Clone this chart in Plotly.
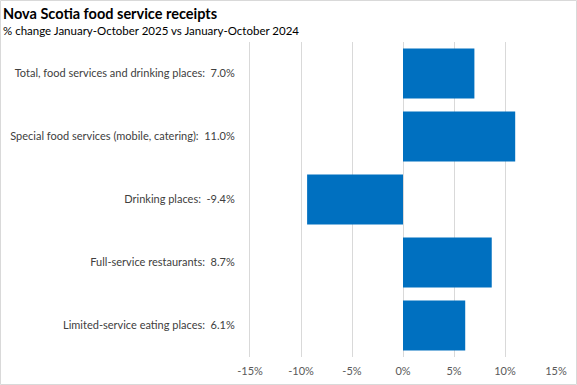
import plotly.graph_objects as go

categories = [
    "Total, food services and drinking places:  7.0%",
    "Special food services (mobile, catering):  11.0%",
    "Drinking places:  -9.4%",
    "Full-service restaurants:  8.7%",
    "Limited-service eating places:  6.1%",
]
values = [7.0, 11.0, -9.4, 8.7, 6.1]
x_ticks = [-15, -10, -5, 0, 5, 10, 15]
x_tick_labels = ["-15%", "-10%", "-5%", "0%", "5%", "10%", "15%"]

W, H = 577, 385
ml, mr, mt, mb = 250, 21, 42, 28
pw = W - ml - mr
ph = H - mt - mb
FONT = "Lato, Liberation Sans, sans-serif"

fig = go.Figure(go.Bar(
    x=values, y=categories, orientation="h",
    marker=dict(color="#0070C0", line=dict(width=0)),
    width=0.79,
))

fig.update_layout(
    width=W, height=H,
    margin=dict(l=ml, r=mr, t=mt, b=mb, autoexpand=False),
    plot_bgcolor="white", paper_bgcolor="white",
    font=dict(family=FONT, color="#404040", size=11),
    showlegend=False,
    bargap=0.2,
)
fig.update_xaxes(
    range=[-15, 15], tickvals=x_ticks, ticktext=x_tick_labels,
    showgrid=True, gridcolor="#D9D9D9", gridwidth=1,
    zeroline=False, showline=False, ticks="",
    tickfont=dict(size=11, color="#595959"), ticklabelstandoff=6,
)
fig.update_yaxes(
    autorange="reversed", showgrid=False, zeroline=False,
    showline=True, linecolor="#D9D9D9", linewidth=1, ticks="",
    tickfont=dict(size=11, color="#404040"), ticklabelstandoff=12,
)
fig.add_annotation(
    text="<b>Nova Scotia food service receipts</b>",
    xref="paper", yref="paper", x=(1 - ml) / pw, y=1 + (mt - 3) / ph,
    xanchor="left", yanchor="top", showarrow=False,
    font=dict(size=14.5, color="#000000", family=FONT),
)
fig.add_annotation(
    text="% change January-October 2025 vs January-October 2024",
    xref="paper", yref="paper", x=(1 - ml) / pw, y=1 + (mt - 22) / ph,
    xanchor="left", yanchor="top", showarrow=False,
    font=dict(size=11.5, color="#000000", family=FONT),
)
fig.add_shape(
    type="rect", xref="paper", yref="paper",
    x0=(0.5 - ml) / pw, x1=(W - 0.5 - ml) / pw,
    y0=-(mb - 0.5) / ph, y1=1 + (mt - 0.5) / ph,
    line=dict(color="#D9D9D9", width=1), fillcolor="rgba(0,0,0,0)", layer="below",
)
fig.write_html(
    "out.html",
    config={"displayModeBar": False},
    post_script="document.body.style.margin='0';document.body.style.padding='0';",
)
